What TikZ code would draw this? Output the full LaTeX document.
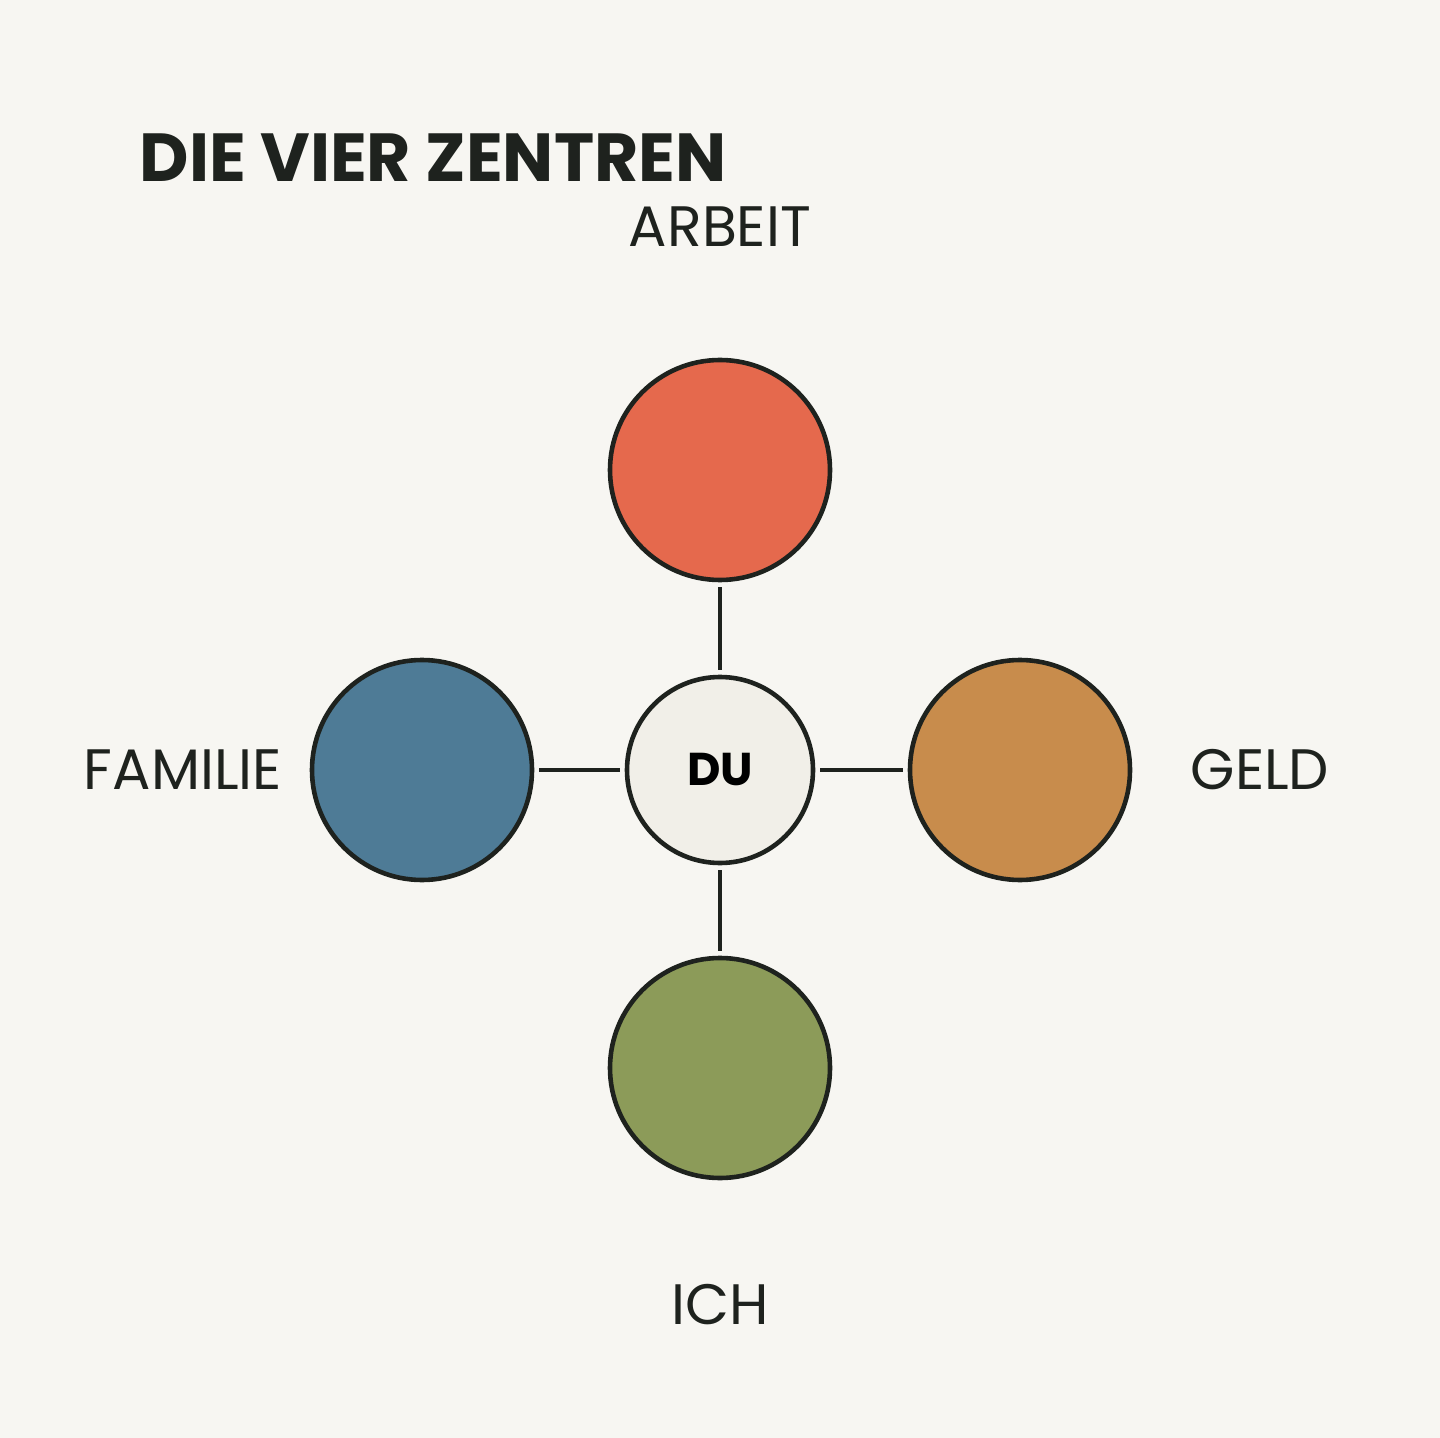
\documentclass[tikz,border=0pt]{standalone}
\usepackage{fontspec}
\setmainfont{Poppins}
\usetikzlibrary{positioning}

\definecolor{paper}{HTML}{F7F6F2}
\definecolor{ink}{HTML}{1E221E}
\definecolor{arbeitred}{HTML}{E5694D}
\definecolor{familieblue}{HTML}{4E7B96}
\definecolor{geldorange}{HTML}{C88C4C}
\definecolor{ichgreen}{HTML}{8C9B59}
\definecolor{duwhite}{HTML}{F1EFE8}

\begin{document}
\begin{tikzpicture}[x=0.5pt,y=-0.5pt,node distance=150pt,line width=2pt,draw=ink]
    \tikzstyle{zentrum}=[circle,draw=ink,line width=2.3pt,minimum size=110pt,inner sep=0pt]
    \tikzstyle{label}=[text=ink,font=\fontsize{28.5}{28.5}\selectfont,inner sep=0pt]
    \tikzstyle{link}=[draw=ink,line width=2.1pt,shorten >=2.5pt,shorten <=2.5pt]

    \fill[paper] (0,0) rectangle (1440,1438);
    \useasboundingbox (0,0) rectangle (1440,1438);

    \node[anchor=west,text=ink,font=\fontsize{34}{34}\selectfont\bfseries] (titel) at (131,158) {DIE VIER ZENTREN};

    \node[zentrum,fill=duwhite,minimum size=93pt] (du) at (720,770) {\fontsize{23}{23}\selectfont\bfseries DU};
    \node[zentrum,fill=arbeitred] (arbeit) [above of=du] {};
    \node[zentrum,fill=familieblue] (familie) [left of=du, node distance=149pt] {};
    \node[zentrum,fill=geldorange] (geld) [right of=du] {};
    \node[zentrum,fill=ichgreen] (ich) [below of=du, node distance=149pt] {};

    \node[label] (arbeitlabel) [above of=arbeit, node distance=121.5pt] {ARBEIT};
    \node[label] (familielabel) [left of=familie, node distance=119.5pt] {FAMILIE};
    \node[label] (geldlabel) [right of=geld, node distance=120pt] {GELD};
    \node[label] (ichlabel) [below of=ich, node distance=118.5pt] {ICH};

    \path[link] (arbeit) edge (du)
                (familie) edge (du)
                (geld) edge (du)
                (ich) edge (du);

\end{tikzpicture}
\end{document}
